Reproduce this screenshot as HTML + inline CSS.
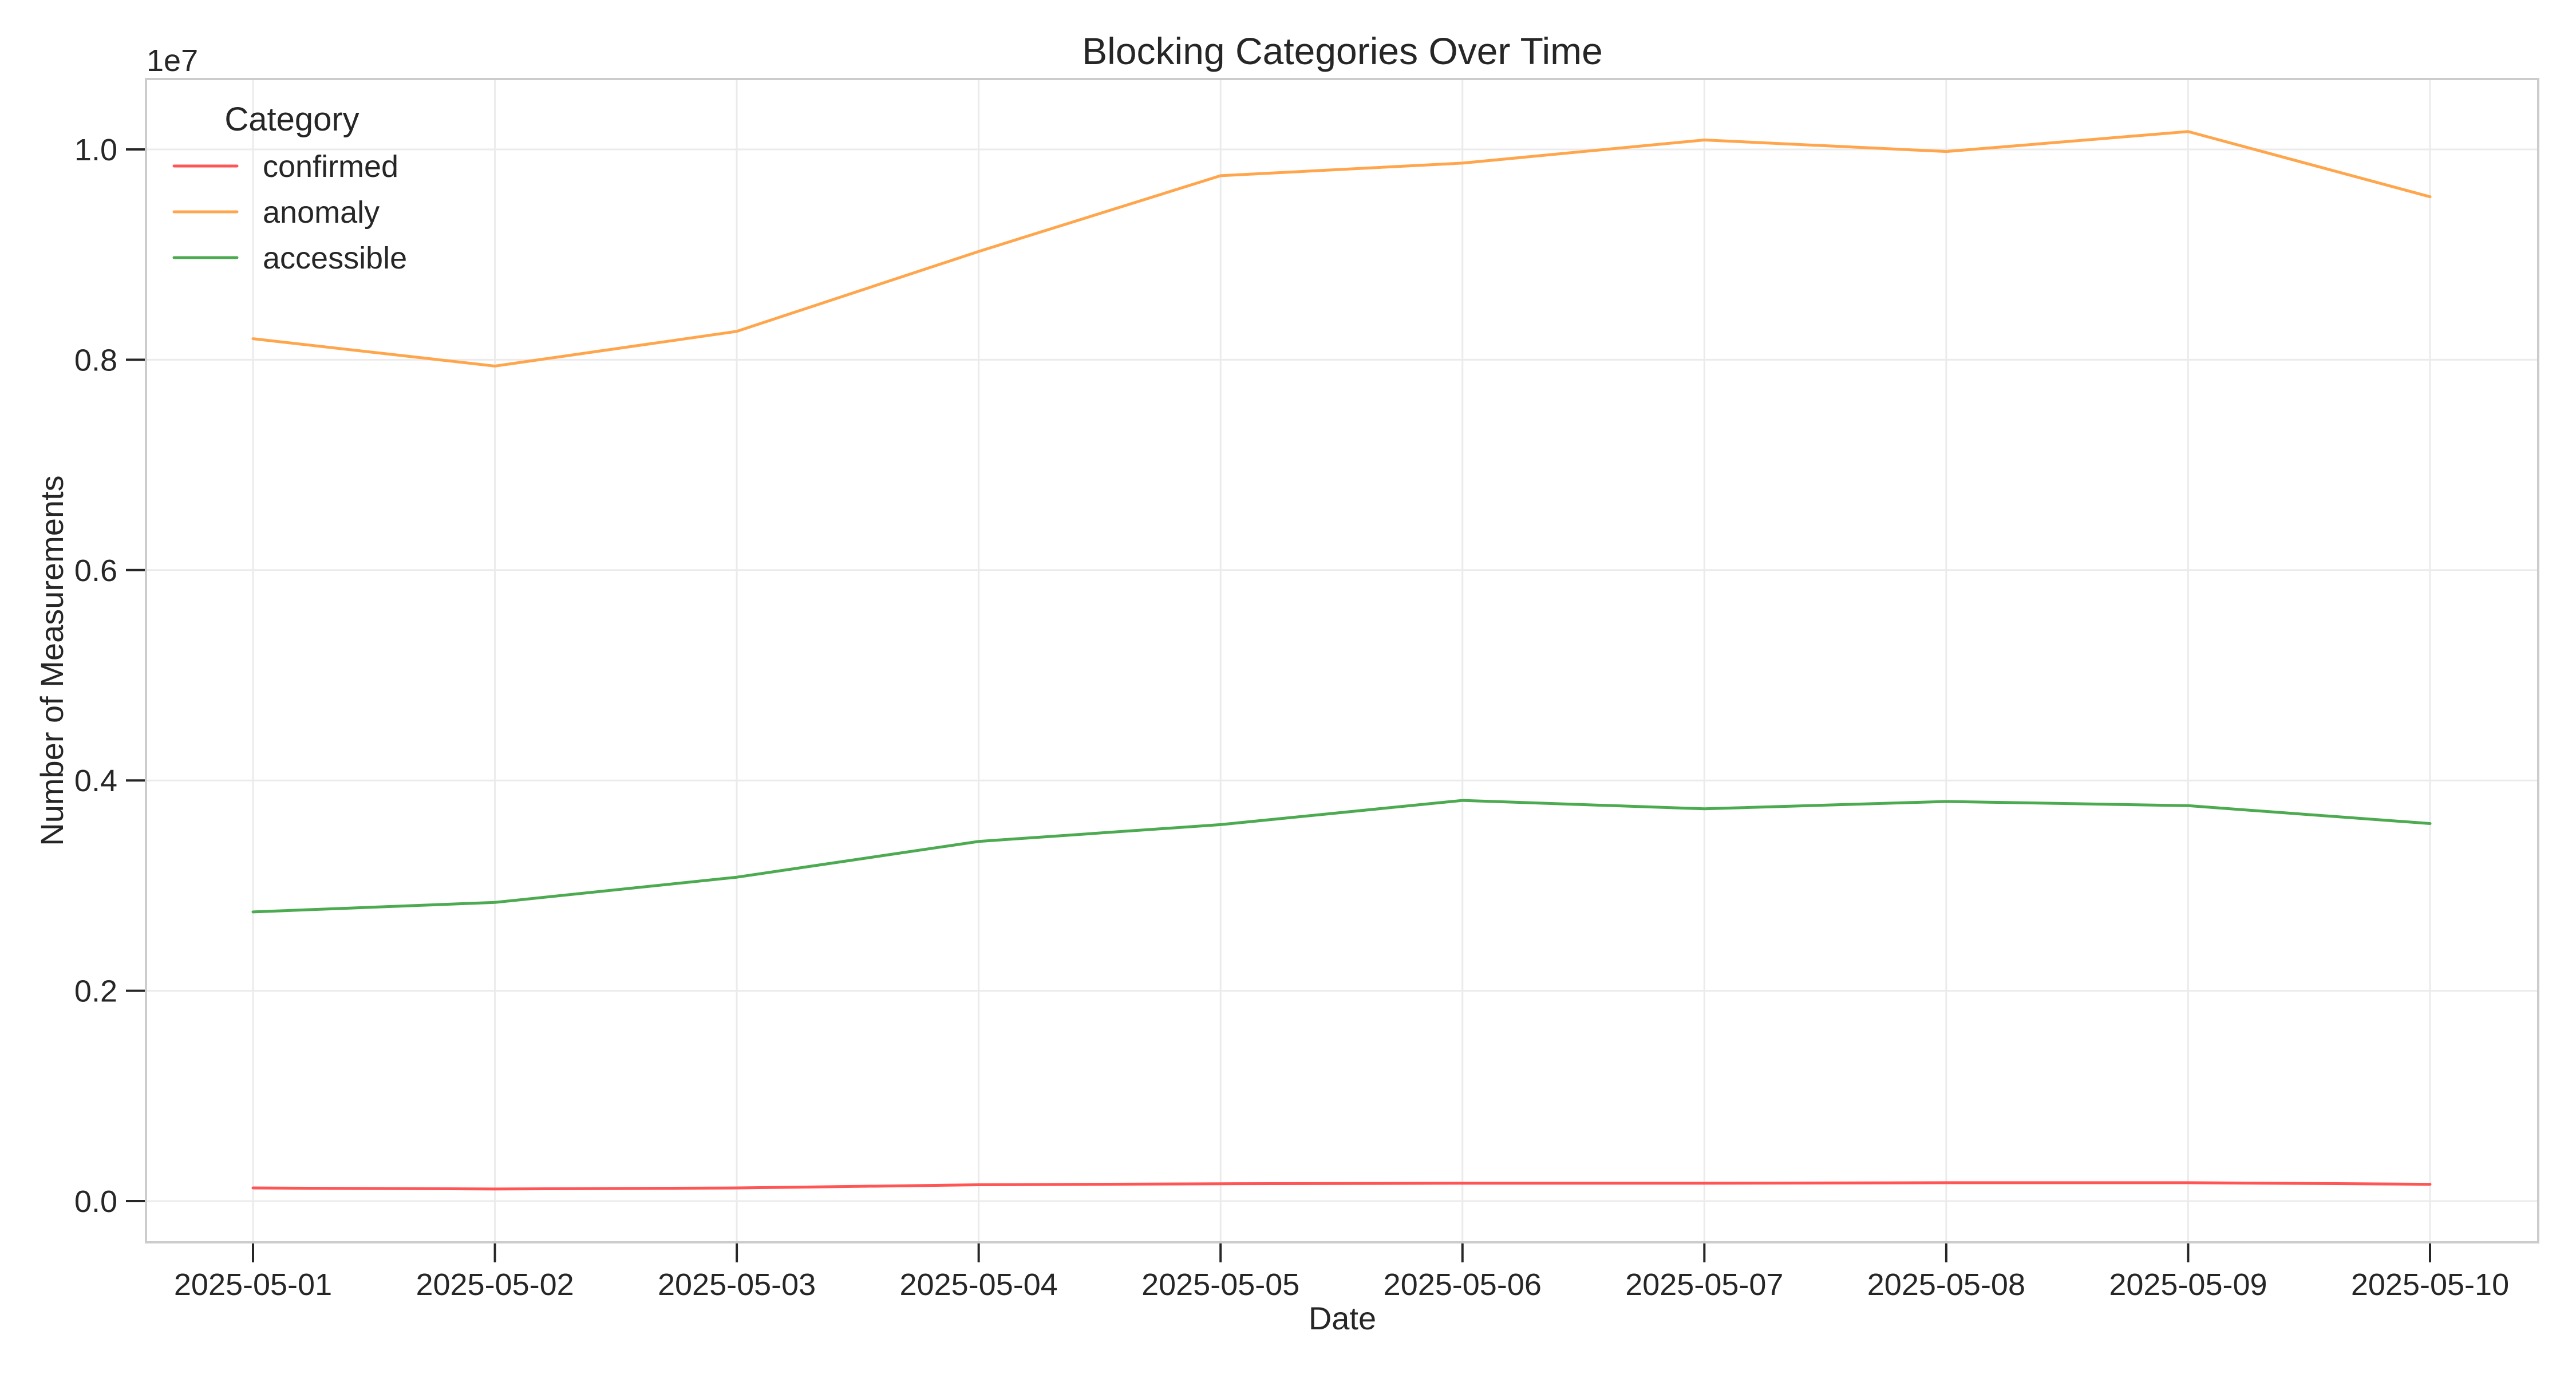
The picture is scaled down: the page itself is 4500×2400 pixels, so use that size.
<!DOCTYPE html>
<html><head><meta charset="utf-8"><style>
html,body{margin:0;padding:0;background:#fff;}
svg{display:block;font-family:"Liberation Sans",sans-serif;}
</style></head>
<body>
<svg id="chart" width="4500" height="2400" viewBox="0 0 4500 2400" xmlns="http://www.w3.org/2000/svg">
<rect width="4500" height="2400" fill="#fff"/>
<g id="grid"></g>
<g id="series"></g>
<rect x="255" y="138" width="4179" height="2032" fill="none" stroke="#cccccc" stroke-width="4"/>
<g id="axes"></g>
<text x="2345" y="112" font-size="66" text-anchor="middle" fill="#262626">Blocking Categories Over Time</text>
<text x="256" y="124" font-size="54" fill="#262626">1e7</text>
<text x="2345" y="2322" font-size="56" text-anchor="middle" fill="#262626">Date</text>
<text transform="translate(110,1154) rotate(-90)" font-size="56" text-anchor="middle" fill="#262626">Number of Measurements</text>
<g id="legend">
<text x="510" y="228" font-size="58" text-anchor="middle" fill="#262626">Category</text>
</g>
</svg>
<script>
const categories = ["2025-05-01","2025-05-02","2025-05-03","2025-05-04","2025-05-05","2025-05-06","2025-05-07","2025-05-08","2025-05-09","2025-05-10"];
const confirmedValues = [125000,115000,125000,155000,165000,170000,170000,175000,175000,160000];
const anomalyValues = [8200000,7940000,8270000,9030000,9750000,9870000,10090000,9980000,10170000,9550000];
const accessibleValues = [2750000,2840000,3080000,3420000,3580000,3810000,3730000,3800000,3760000,3590000];
const yTickValues = [0,2000000,4000000,6000000,8000000,10000000];
const yTickLabels = ["0.0","0.2","0.4","0.6","0.8","1.0"];
const seriesNames = ["confirmed","anomaly","accessible"];

const NS="http://www.w3.org/2000/svg";
const X0=442, X1=4245, Y0=2098, Y1=261;
function xScale(i){return X0+(X1-X0)*i/(categories.length-1);}
function yScale(v){return Y0+(Y1-Y0)*v/10000000;}
function mk(tag,attrs,parent){const e=document.createElementNS(NS,tag);for(const k in attrs)e.setAttribute(k,attrs[k]);parent.appendChild(e);return e;}
const grid=document.getElementById('grid'), axes=document.getElementById('axes'), ser=document.getElementById('series'), leg=document.getElementById('legend');

categories.forEach((c,i)=>{
  const x=xScale(i);
  const g=mk('line',{x1:x,x2:x,y1:138,y2:2170,stroke:'#ebebeb','stroke-width':3},grid);
  
  
  const t=mk('line',{x1:x,x2:x,y1:2172,y2:2205,stroke:'#262626','stroke-width':4},axes);
  
  
  const l=mk('text',{x:x,y:2262,'font-size':54,'text-anchor':'middle',fill:'#262626'},axes);
  
  
  l.textContent=c;
});
yTickValues.forEach((v,i)=>{
  const y=yScale(v);
  const g=mk('line',{x1:255,x2:4434,y1:y,y2:y,stroke:'#ebebeb','stroke-width':3},grid);
  
  
  const t=mk('line',{x1:220,x2:253,y1:y,y2:y,stroke:'#262626','stroke-width':4},axes);
  
  
  const l=mk('text',{x:205,y:y+19,'font-size':54,'text-anchor':'end',fill:'#262626'},axes);
  
  
  l.textContent=yTickLabels[i];
});
const allSeries=[confirmedValues,anomalyValues,accessibleValues];
const colors=["#ff5555","#ffa64d","#4caa50"];
allSeries.forEach((vals,s)=>{
  const pts=vals.map((v,i)=>xScale(i)+','+yScale(v)).join(' ');
  const p=mk('polyline',{points:pts,fill:'none',stroke:colors[s],'stroke-width':5,'stroke-linecap':'round','stroke-linejoin':'round'},ser);
  
  
  const ly=290+s*80;
  const ll=mk('line',{x1:304,x2:414,y1:ly,y2:ly,stroke:colors[s],'stroke-width':5,'stroke-linecap':'round'},leg);
  
  
  const lt=mk('text',{x:459,y:ly+19,'font-size':54,fill:'#262626'},leg);
  
  
  lt.textContent=seriesNames[s];
});
</script>
</body></html>
